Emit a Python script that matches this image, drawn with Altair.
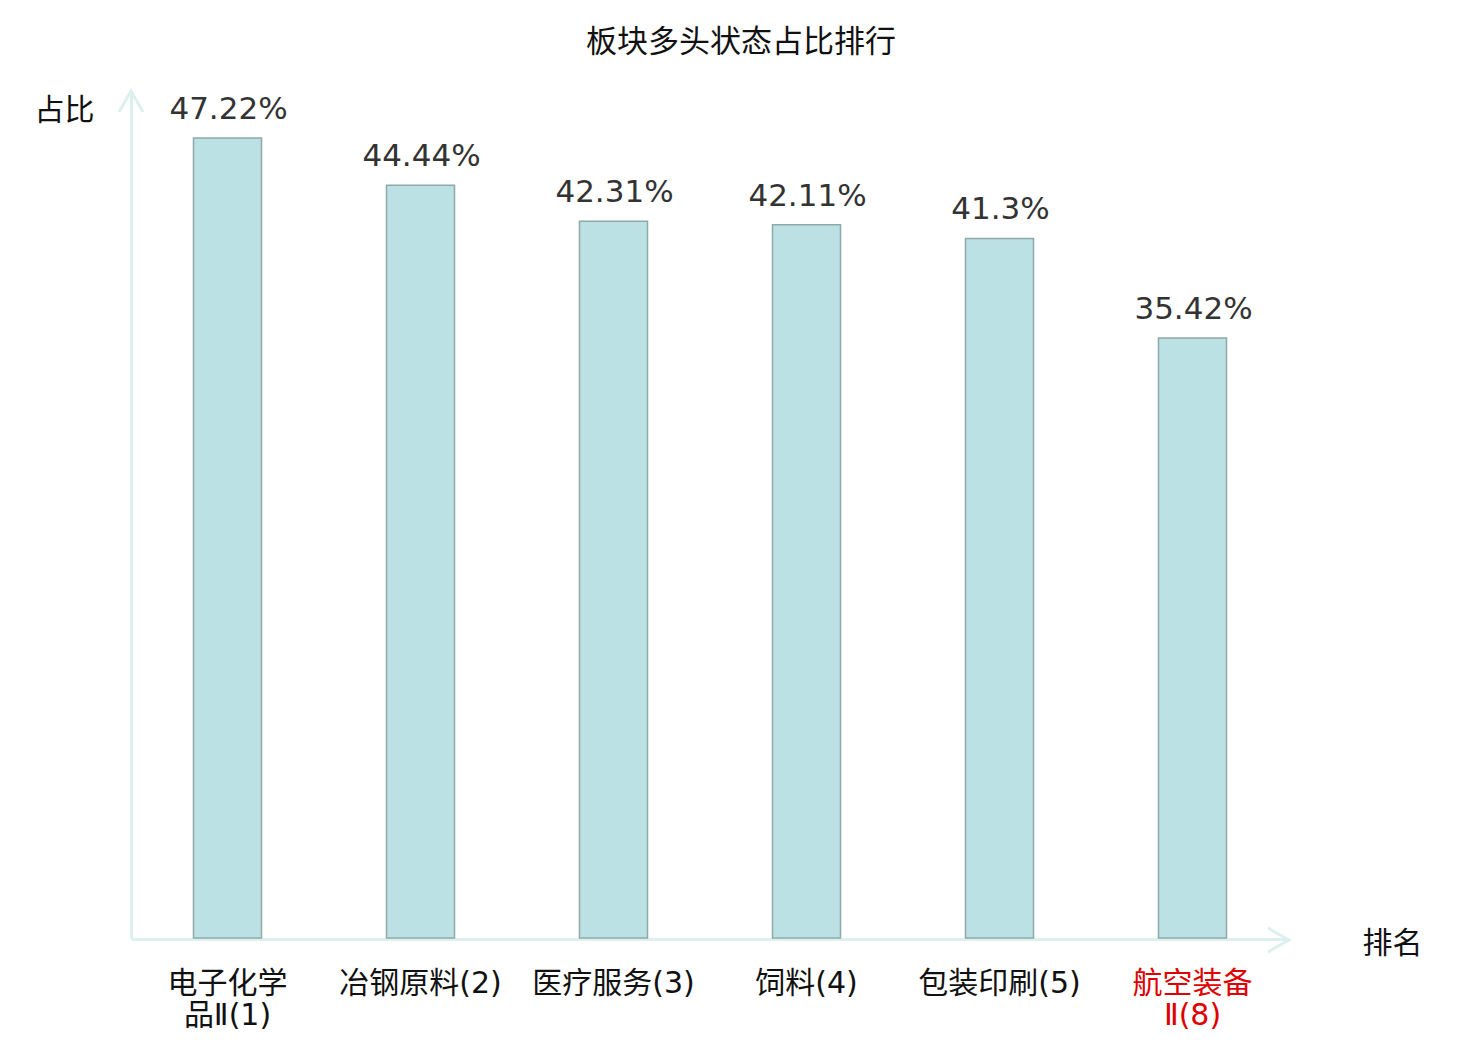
import altair as alt
import pandas as pd

categories = ["电子化学品Ⅱ(1)", "冶钢原料(2)", "医疗服务(3)", "饲料(4)", "包装印刷(5)", "航空装备Ⅱ(8)"]
display_labels = ["电子化学|品Ⅱ(1)", "冶钢原料(2)", "医疗服务(3)", "饲料(4)", "包装印刷(5)", "航空装备|Ⅱ(8)"]
values = [47.22, 44.44, 42.31, 42.11, 41.3, 35.42]
value_text = ["47.22%", "44.44%", "42.31%", "42.11%", "41.3%", "35.42%"]
highlight = "航空装备Ⅱ(8)"

df = pd.DataFrame({"cat": categories, "disp": display_labels, "v": values, "t": value_text})

W, H = 1158, 847
FONT = "DejaVu Sans, Noto Sans CJK SC, sans-serif"
AXIS_COLOR = "#dcf1ee"

label_map = "{" + ",".join(f"'{c}':'{d}'" for c, d in zip(categories, display_labels)) + "}"

x = alt.X(
    "cat:N",
    sort=categories,
    scale=alt.Scale(paddingInner=0, paddingOuter=0),
    axis=alt.Axis(
        title="排名",
        titleFont=FONT,
        titleFontSize=30,
        titleFontWeight="normal",
        titleColor="#111",
        titleAngle=0,
        titleX=1261,
        titleY=4,
        titleAlign="center",
        titleBaseline="middle",
        labelFont=FONT,
        labelFontSize=30,
        labelAngle=0,
        labelBaseline="top",
        labelPadding=29,
        labelLineHeight=32,
        labelExpr="split(" + label_map + "[datum.value], '|')",
        labelColor=alt.ExprRef(expr=f"datum.value == '{highlight}' ? '#e00000' : '#111'"),
        ticks=False,
        domainColor=AXIS_COLOR,
        domainWidth=3,
        offset=1,
        labelOverlap=False,
        labelLimit=400,
    ),
)

y = alt.Y(
    "v:Q",
    scale=alt.Scale(domain=[0, 50], nice=False),
    axis=alt.Axis(
        title="占比",
        titleFont=FONT,
        titleFontSize=30,
        titleFontWeight="normal",
        titleColor="#111",
        titleAngle=0,
        titleX=-67,
        titleY=19,
        titleAlign="center",
        titleBaseline="middle",
        labels=False,
        ticks=False,
        grid=False,
        domainColor=AXIS_COLOR,
        domainWidth=3,
    ),
)

base = alt.Chart(df)

bars = base.mark_bar(size=68, fill="#bce1e4", stroke="#8fa9a9", strokeWidth=1.5).encode(x=x, y=y)

text = base.mark_text(font=FONT, fontSize=31, color="#333", baseline="middle", dy=-28, dx=1).encode(
    x=alt.X("cat:N", sort=categories), y="v:Q", text="t:N"
)

arrow_df = pd.DataFrame({"v": [50]})
up_arrow = alt.Chart(arrow_df).mark_point(
    shape="M-0.57,1L0,0L0.57,1", size=1764, filled=False, stroke=AXIS_COLOR, strokeWidth=3, opacity=1
).encode(x=alt.value(0), y="v:Q")

right_arrow = alt.Chart(arrow_df).mark_point(
    shape="M-1,-0.57L0,0L-1,0.57", size=1764, filled=False, stroke=AXIS_COLOR, strokeWidth=3, opacity=1
).encode(x=alt.value(W), y=alt.value(H + 2))

chart = (
    alt.layer(bars, text, up_arrow, right_arrow)
    .properties(
        width=W,
        height=H,
        title=alt.TitleParams(
            "板块多头状态占比排行",
            font=FONT,
            fontSize=31,
            fontWeight="normal",
            color="#111",
            anchor="middle",
            dx=31,
            offset=26,
        ),
        autosize=alt.AutoSizeParams(type="none"),
        padding={"left": 123, "top": 83, "right": 150, "bottom": 100},
    )
    .configure_view(stroke=None)
)

chart.save("out.html", embed_options={"renderer": "svg", "actions": False})
